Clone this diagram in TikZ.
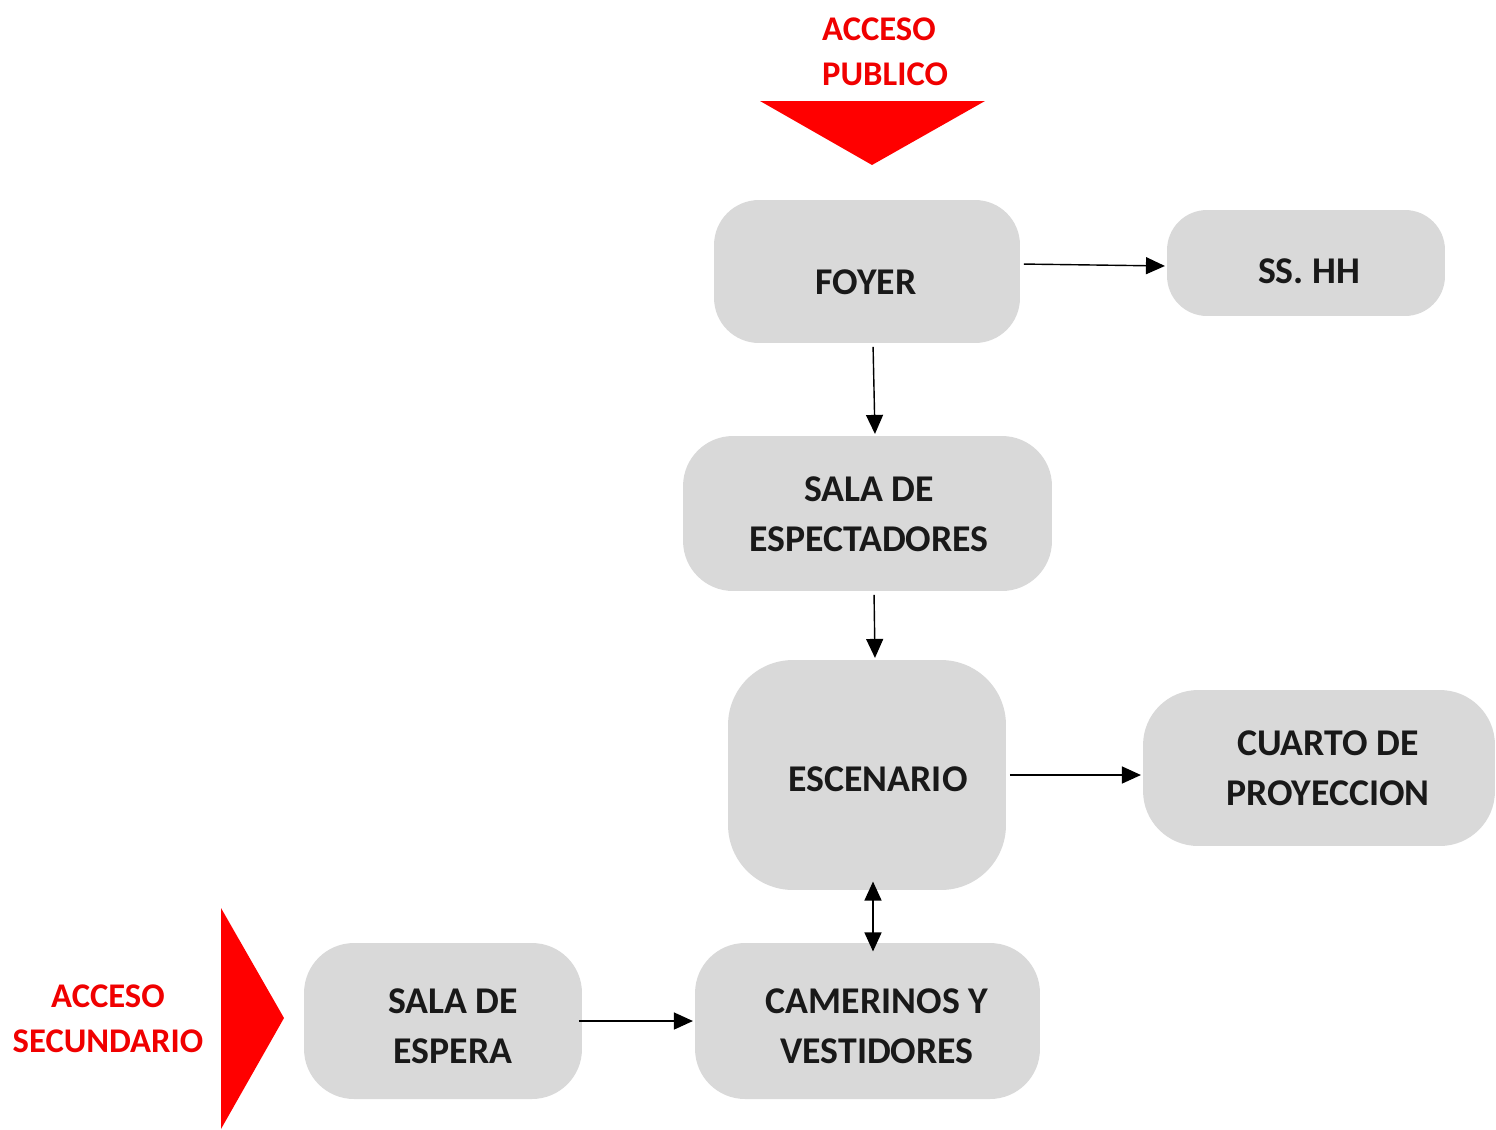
\documentclass[tikz,border=0pt]{standalone}
\usepackage{fontspec}
\setmainfont{Carlito}
\usetikzlibrary{arrows.meta}

\definecolor{boxgray}{RGB}{217,217,217}
\definecolor{accred}{RGB}{240,0,0}

\tikzset{
  room/.style={fill=boxgray, draw=none, inner sep=0pt},
  roomtext/.style={align=center, inner sep=0pt,
    font=\fontsize{21.5}{28.4}\selectfont\bfseries, text=black!90},
  access/.style={text=accred, font=\fontsize{19.7}{25.5}\selectfont\bfseries},
  flow/.style={-{Triangle[length=0.38cm, width=0.34cm]}, line width=0.8pt,
    shorten <=2pt, shorten >=1pt}
}

\begin{document}
\begin{tikzpicture}[x=0.02cm, y=-0.02cm]
  \useasboundingbox (0,0) rectangle (1496,1129);

  % rooms
  \node[room, rounded corners=0.9cm, minimum width=6.12cm, minimum height=2.86cm]
    (foyer) at (867,271.5) {};
  \node[room, rounded corners=0.8cm, minimum width=5.56cm, minimum height=2.12cm]
    (sshh) at (1306,263) {};
  \node[room, rounded corners=1.0cm, minimum width=7.38cm, minimum height=3.1cm]
    (sala) at (867.5,513.5) {};
  \node[room, rounded corners=1.3cm, minimum width=5.56cm, minimum height=4.6cm]
    (escenario) at (867,775) {};
  \node[room, rounded corners=1.1cm, minimum width=7.04cm, minimum height=3.12cm]
    (cuarto) at (1319,768) {};
  \node[room, rounded corners=1.0cm, minimum width=5.56cm, minimum height=3.12cm]
    (espera) at (443,1021) {};
  \node[room, rounded corners=1.0cm, minimum width=6.9cm, minimum height=3.12cm]
    (camerinos) at (867.5,1021) {};

  % room names
  \node[roomtext] (foyer-t) at (866,282) {FOYER};
  \node[roomtext] (sshh-t) at (1309,271) {SS. HH};
  \node[roomtext] (sala-t) at (869,514) {SALA DE\\ESPECTADORES};
  \node[roomtext] (escenario-t) at (878,779) {ESCENARIO};
  \node[roomtext] (cuarto-t) at (1328,768) {CUARTO DE\\PROYECCION};
  \node[roomtext] (espera-t) at (453,1026) {SALA DE\\ESPERA};
  \node[roomtext] (camerinos-t) at (877,1026) {CAMERINOS Y\\VESTIDORES};

  % accesses
  \node[access, anchor=west, align=left] (pub) at (816,52) {ACCESO\\PUBLICO};
  \fill[red] (760,101) -- (985,101) -- (872,165) -- cycle;
  \node[access, align=center] (sec) at (108,1019) {ACCESO\\SECUNDARIO};
  \fill[red] (221,908) -- (284,1018) -- (221,1129) -- cycle;

  % circulation
  \draw[flow] (foyer.east |- 0,264) -- (sshh.west |- 0,266);
  \draw[flow] (foyer.south -| 873,0) -- (sala.north -| 875,0);
  \draw[flow] (sala.south -| 874,0) -- (escenario.north -| 875,0);
  \draw[flow] (escenario.east |- 0,775) -- (cuarto.west |- 0,775);
  \draw[flow, shorten <=-2pt] (espera) -- (camerinos);
  \draw[flow, {Triangle[length=0.38cm, width=0.34cm]}-{Triangle[length=0.38cm, width=0.34cm]},
    shorten <=-5pt, shorten >=-5pt] (escenario.south -| 873,0) -- (camerinos.north -| 873,0);
\end{tikzpicture}
\end{document}
